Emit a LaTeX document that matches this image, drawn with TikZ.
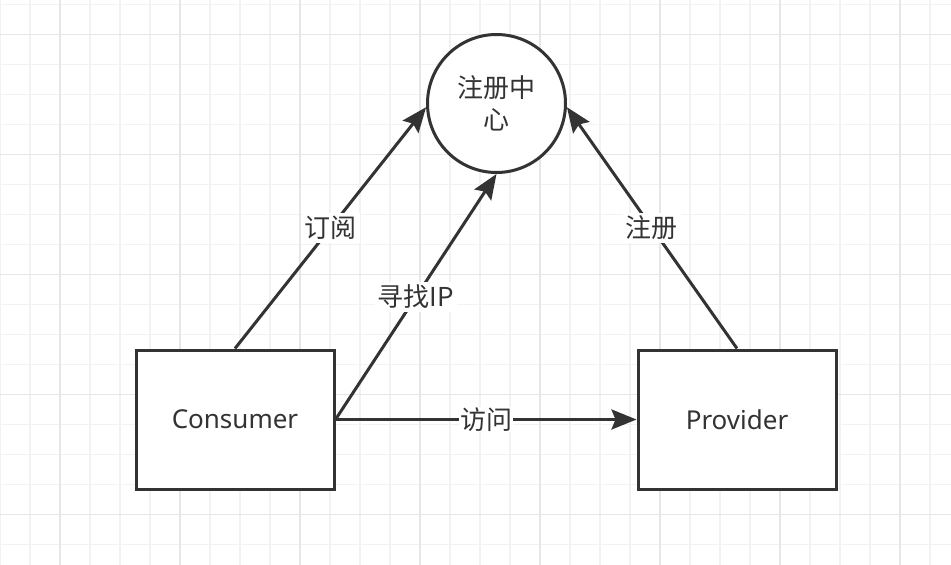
\documentclass[tikz,border=0pt]{standalone}
\usepackage{fontspec}
\setmainfont{Noto Sans}
\newfontfamily\cjk{Noto Sans CJK SC}
\usetikzlibrary{arrows.meta}
\definecolor{ink}{HTML}{333333}
\definecolor{gridminor}{HTML}{F2F2F2}
\definecolor{gridmajor}{HTML}{E6E6E6}
\tikzset{
  box/.style={draw=ink, line width=3pt, fill=white, minimum width=198pt, minimum height=139pt, inner sep=0pt, text=ink, font=\fontsize{26}{31}\selectfont},
  hub/.style={circle, draw=ink, line width=3pt, fill=white, minimum size=138pt, inner sep=0pt, align=center, text=ink, font=\cjk\fontsize{26}{32}\selectfont},
  conn/.style={draw=ink, line width=3pt, -{Stealth[length=25pt,width=20pt,inset=4pt]}},
  lbl/.style={fill=white, text=ink, inner sep=3pt, font=\cjk\fontsize{26}{31}\selectfont},
  gmin/.style={draw=gridminor, line width=1.5pt},
  gmaj/.style={draw=gridmajor, line width=1.5pt}
}
\begin{document}
\begin{tikzpicture}[x=1pt,y=-1pt]
\useasboundingbox (0,0) rectangle (951,565);
\fill[white] (0,0) rectangle (951,565);
\foreach \x in {0,30,...,930} \draw[gmin] (\x,0) -- (\x,565);
\foreach \k in {0,...,18} \draw[gmin] (0,{4.5+30*\k}) -- (951,{4.5+30*\k});
\foreach \x in {60,180,...,900} \draw[gmaj] (\x,0) -- (\x,565);
\foreach \k in {0,...,4} \draw[gmaj] (0,{34.5+120*\k}) -- (951,{34.5+120*\k});

\node[hub] (reg) at (496.5,103.5) {注册中\\心};
\node[box] (c) at (235,419.5) {Consumer};
\node[box] (p) at (737,419.5) {Provider};

\draw[conn] (c.north) -- node[lbl] {订阅} (reg.183.5);
\draw[conn] (c.east) -- node[lbl] {寻找IP} (reg.south);
\draw[conn] (p.north) -- node[lbl] {注册} (reg.357);
\draw[conn] (c.east) -- node[lbl, inner sep=1pt] {访问} (p.west);
\end{tikzpicture}
\end{document}
